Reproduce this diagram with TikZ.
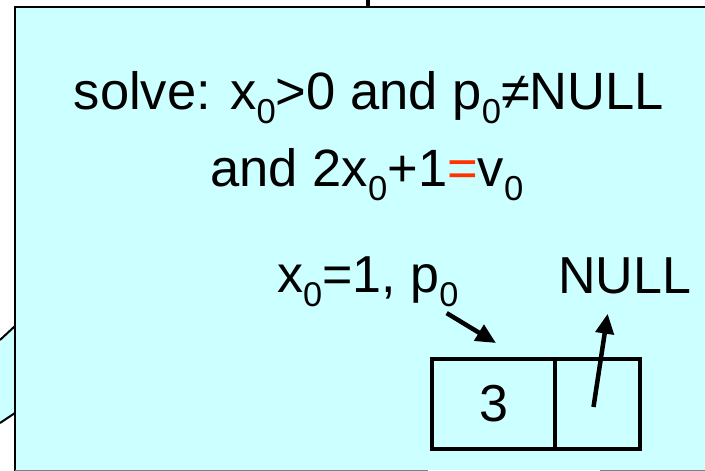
\documentclass[tikz,border=0pt]{standalone}
\usepackage{fontspec}
\setmainfont{Liberation Sans}
\usepackage{tikz}
\usetikzlibrary{arrows.meta, positioning}

\definecolor{panelcyan}{HTML}{CCFFFF}
\definecolor{eqred}{HTML}{FF3300}
\newcommand{\sbz}[1]{\raisebox{-0.28em}{\scalebox{0.66}{#1}}}

\begin{document}
\begin{tikzpicture}[x = 1pt, y = -1pt]
			\tikzset{cell/.style = {draw, line width = 4.5pt, inner sep = 0pt, outer sep = 0pt, minimum height = 90pt},
				ptr/.style = {line width = 4.5pt, -{Triangle[length = 20pt, width = 18pt]}},
				bigtxt/.style = {inner sep = 0pt, font = \fontsize{52.5}{60}\selectfont},
				lowtxt/.style = {inner sep = 0pt, font = \fontsize{52}{60}\selectfont}}
			\useasboundingbox (0,0) rectangle (705,471);
			% callout tail and the panel
			\fill[panelcyan] (0,340) -- (15,326) -- (15,413) -- (0,423) -- cycle;
			\draw[line width = 2pt] (0,340) -- (15,326);
			\draw[line width = 2pt] (0,423) -- (15,413);
			\fill[panelcyan] (15,7) rectangle (720,470);
			\draw[line width = 2.5pt] (15,471) -- (15,7) -- (720,7);
			\draw[line width = 4pt] (368,0) -- (368,7);
			\draw[gray, line width = 1pt] (15,470) -- (428,470);
			\draw[gray, line width = 1pt] (600,470) -- (720,470);
			% constraints
			\node[bigtxt, anchor = base] (goal) at (369,109)
			{solve: x\sbz{0}>0 and p\sbz{0}≠NULL};
			\node[bigtxt, anchor = base] (goaltwo) at (367,186)
			{and 2x\sbz{0}+1\textcolor{eqred}{=}v\sbz{0}};
			% solution and list cell
			\node[lowtxt, anchor = base west] (plab) at (277,292) {x\sbz{0}=1, p\sbz{0}};
			\node[lowtxt, anchor = base west] (nlab) at (558,293) {NULL};
			\node[cell, minimum width = 123pt, lowtxt] (val) at (493.5,404) {3};
			\node[cell, minimum width = 85pt, anchor = west] (nxt) at (val.east) {};
			\draw[ptr] ([xshift = -12pt, yshift = -6pt]plab.south east) -- ([xshift = 2.5pt, yshift = 16pt]val.north);
			\draw[ptr] ([xshift = -4pt, yshift = -3pt]nxt.center) -- ([xshift = -17pt, yshift = -20pt]nlab.south);
		\end{tikzpicture}
\end{document}
